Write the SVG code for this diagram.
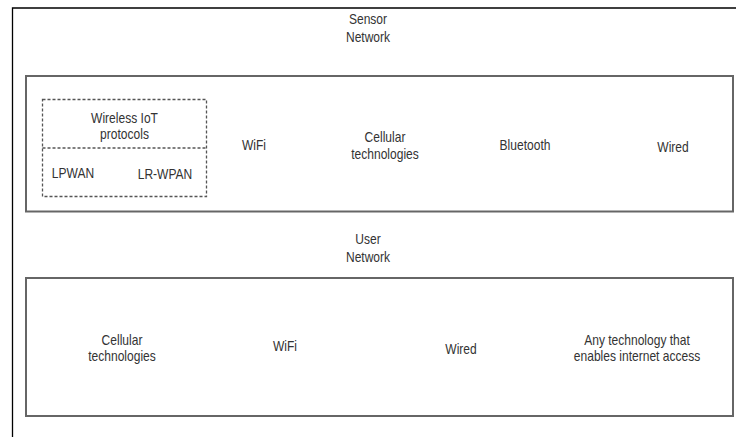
<svg xmlns="http://www.w3.org/2000/svg" width="736" height="437" viewBox="0 0 736 437">
<style>
text{font-family:"Liberation Sans",Arial,sans-serif;font-size:14px;fill:#333;text-anchor:middle}
.box{fill:#fff;stroke:#666;stroke-width:2}
.dash{fill:none;stroke:#555;stroke-width:1.3;stroke-dasharray:3 2}
.frame{fill:none;stroke:#000;stroke-width:1.3}
</style>
<rect width="736" height="437" fill="#fff"/>
<g id="frame"><path class="frame" d="M737 8H12.5V437"/></g>
<g id="sensor-title" transform="translate(368 0) scale(.86 1)"><text x="0" y="24">Sensor</text><text x="0" y="42">Network</text></g>
<g id="sensor-network">
<rect class="box" x="26" y="76" width="707" height="135.5"/>
</g>
<g id="wireless-iot">
<rect class="dash" x="42.5" y="99.5" width="164" height="97"/>
<line class="dash" x1="42.5" y1="148" x2="206.5" y2="148"/>
<g transform="translate(124.5 0) scale(.86 1)"><text x="0" y="123">Wireless IoT</text><text x="0" y="139">protocols</text></g>
</g>
<g id="lpwan" transform="translate(73 0) scale(.86 1)"><text x="0" y="178">LPWAN</text></g>
<g id="lrwpan" transform="translate(165 0) scale(.86 1)"><text x="0" y="179">LR-WPAN</text></g>
<g id="s-wifi" transform="translate(254 0) scale(.86 1)"><text x="0" y="150">WiFi</text></g>
<g id="s-cellular" transform="translate(385 0) scale(.86 1)"><text x="0" y="142">Cellular</text><text x="0" y="159">technologies</text></g>
<g id="s-bluetooth" transform="translate(525 0) scale(.86 1)"><text x="0" y="150">Bluetooth</text></g>
<g id="s-wired" transform="translate(673 0) scale(.86 1)"><text x="0" y="152">Wired</text></g>
<g id="user-title" transform="translate(368 0) scale(.86 1)"><text x="0" y="244">User</text><text x="0" y="262">Network</text></g>
<g id="user-network"><rect class="box" x="26" y="278" width="707" height="138"/></g>
<g id="u-cellular" transform="translate(122 0) scale(.86 1)"><text x="0" y="345">Cellular</text><text x="0" y="361">technologies</text></g>
<g id="u-wifi" transform="translate(285 0) scale(.86 1)"><text x="0" y="351">WiFi</text></g>
<g id="u-wired" transform="translate(461 0) scale(.86 1)"><text x="0" y="354">Wired</text></g>
<g id="u-any" transform="translate(637 0) scale(.86 1)"><text x="0" y="345">Any technology that</text><text x="0" y="361">enables internet access</text></g>
<g id="connectors"></g>
</svg>
